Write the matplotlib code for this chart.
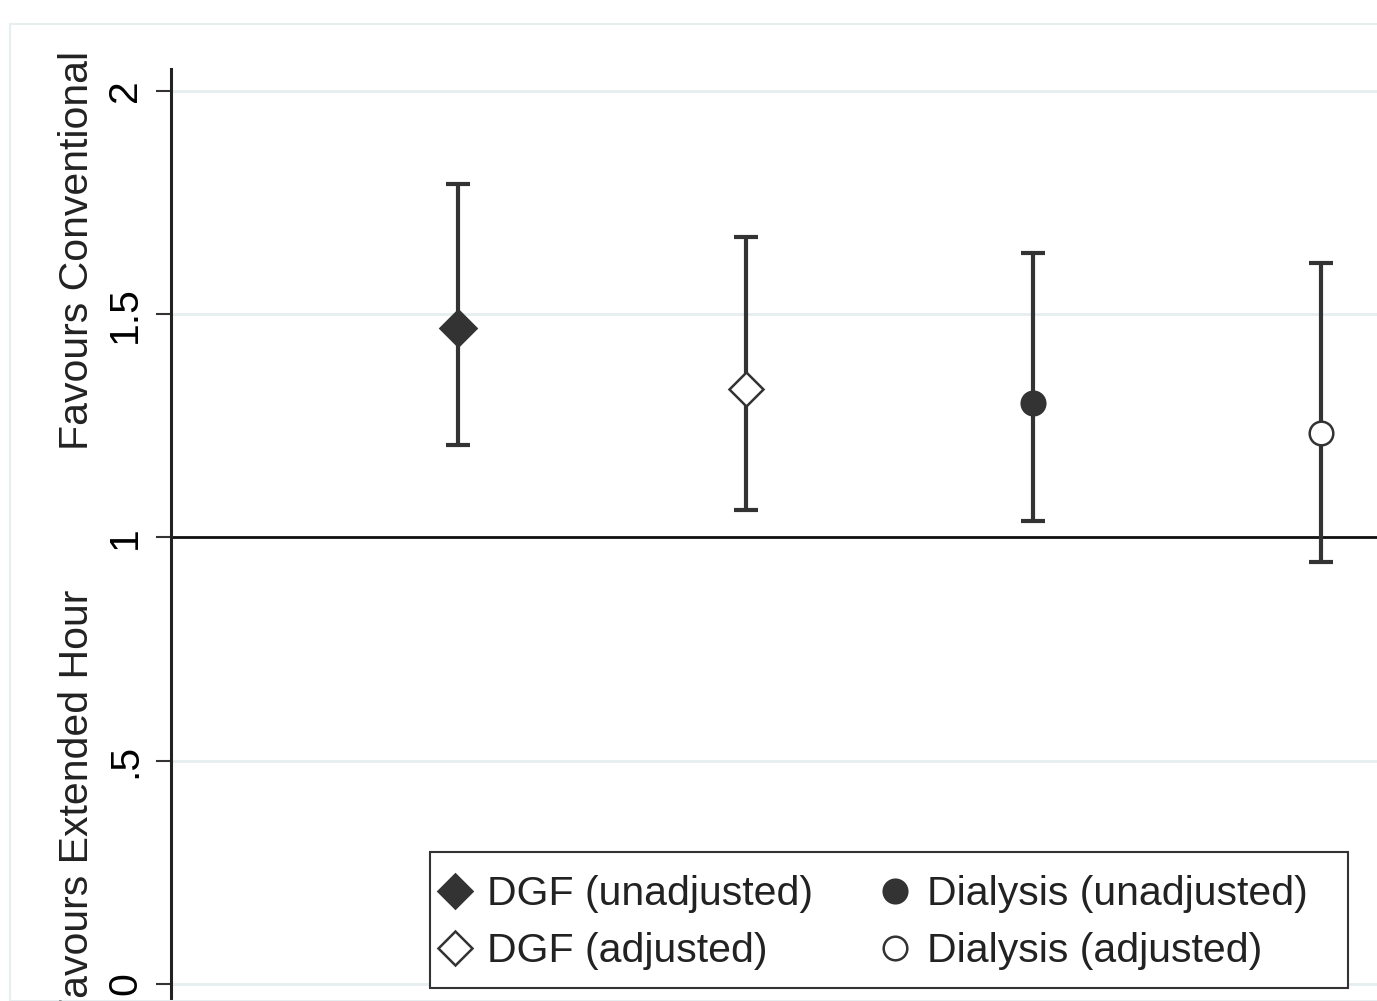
import matplotlib.pyplot as plt
from matplotlib.lines import Line2D
from matplotlib.patches import Rectangle

plt.rcParams['font.family'] = ['Liberation Sans', 'DejaVu Sans']

# estimates and 95% CI
labels = ['DGF (unadjusted)', 'DGF (adjusted)', 'Dialysis (unadjusted)', 'Dialysis (adjusted)']
xpos = [1, 2, 3, 4]
est = [1.469, 1.333, 1.301, 1.234]
lo = [1.207, 1.062, 1.037, 0.945]
hi = [1.792, 1.673, 1.637, 1.615]
markers = ['D', 'D', 'o', 'o']
filled = [True, False, True, False]
msizes = [18, 17, 17, 17]

yticks = [0, 0.5, 1, 1.5, 2]
yticklabels = ['0', '.5', '1', '1.5', '2']

W, H = 1377, 1001
fig = plt.figure(figsize=(W / 100, H / 100), dpi=100)

# faint outer frame
fig.patches.append(Rectangle((10 / W, 0), 1.2, 1 - 24 / H, transform=fig.transFigure,
                             fill=False, edgecolor='#e6eef0', lw=1.5))

ax = fig.add_axes([170.5 / W, -0.0053, 1437.5 / W, 0.9367])
ax.set_xlim(0, 5)
ax.set_ylim(-0.05, 2.05)

dark = '#333333'
for i in range(len(xpos)):
    ax.errorbar(xpos[i], est[i], yerr=[[est[i] - lo[i]], [hi[i] - est[i]]],
                fmt='none', ecolor=dark, elinewidth=3, capsize=8.5, capthick=3, zorder=3)
    ax.plot(xpos[i], est[i], marker=markers[i], ms=msizes[i], linestyle='none',
            mfc=dark if filled[i] else 'white', mec=dark, mew=1.8, zorder=4)

ax.axhline(1, color='#111111', lw=2, zorder=2)
ax.set_yticks(yticks)
ax.set_yticklabels(yticklabels, rotation=90, va='center')
ax.grid(axis='y', color='#e6eef0', lw=2)
ax.set_axisbelow(True)
ax.tick_params(axis='y', length=11, width=1.5, color='#333333', labelsize=29.5, pad=8)
ax.tick_params(axis='x', bottom=False, labelbottom=False)
for s in ['top', 'right', 'bottom']:
    ax.spines[s].set_visible(False)
ax.spines['left'].set_linewidth(2.2)
ax.spines['left'].set_color('#222222')

fig.text(77 / W, 1 - 250 / H, 'Favours Conventional', rotation=90, ha='center', va='center',
         fontsize=29.5, color='#222222')
fig.text(77 / W, 1 - 806 / H, 'Favours Extended Hour', rotation=90, ha='center', va='center',
         fontsize=29.5, color='#222222')

# legend frame drawn separately (Stata-like fixed box)
ax.add_patch(Rectangle((430 / W, 1 - 988 / H), 918 / W, 136 / H, transform=fig.transFigure,
                       facecolor='white', edgecolor='#333333', lw=1.5, zorder=5, clip_on=False))

handles = [Line2D([], [], marker=markers[i], ms=msizes[i] - (1 if i == 0 else 0), linestyle='none',
                  mfc=dark if filled[i] else 'white', mec=dark, mew=1.8)
           for i in range(len(labels))]
leg = ax.legend(handles, labels, ncol=2, loc='upper left',
                bbox_to_anchor=(438.5 / W, 1 - 875 / H), bbox_transform=fig.transFigure,
                borderaxespad=0, borderpad=0, frameon=False, fontsize=29.5,
                handlelength=0.8, handletextpad=0.38,
                columnspacing=1.6, labelspacing=0.47)
leg.set_zorder(6)
for t in leg.get_texts():
    t.set_color('#222222')

fig.savefig('out.png', dpi=100)
